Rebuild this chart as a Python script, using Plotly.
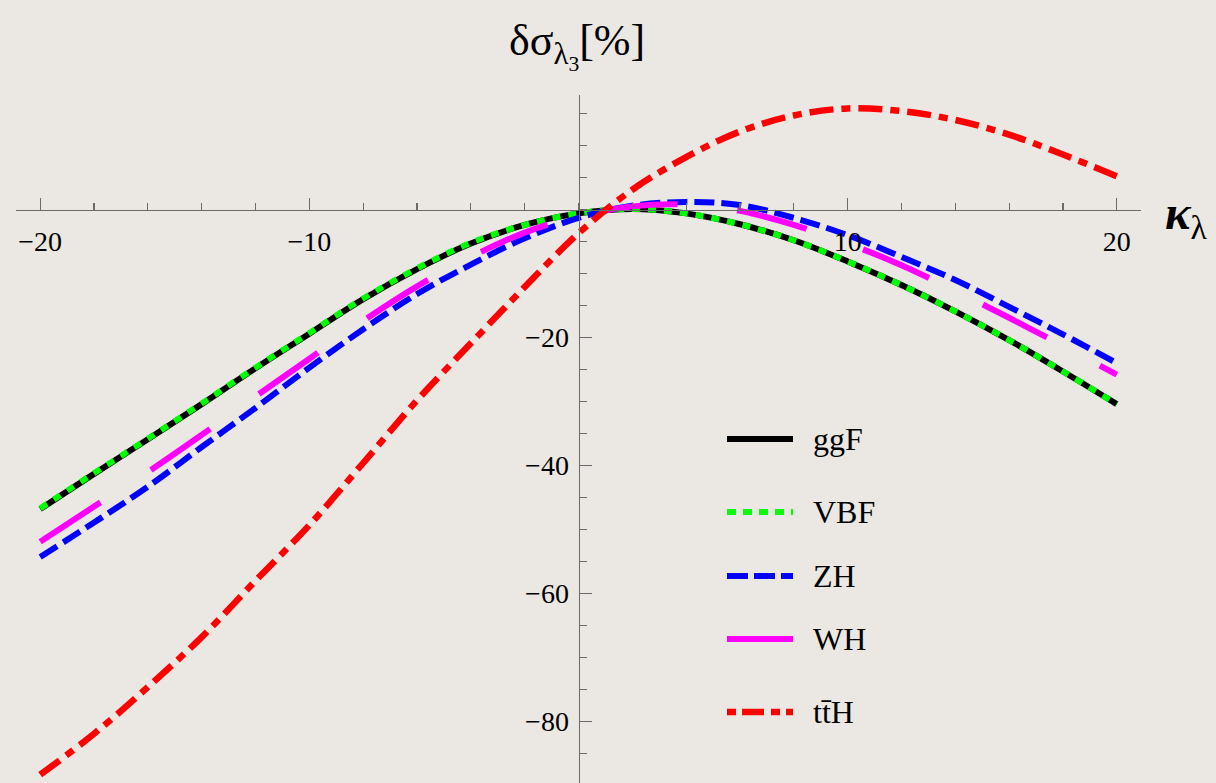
import plotly.graph_objects as go

# ---------------- data ----------------
kappa = [-20, -18, -16, -14, -12, -10, -8, -6, -4, -2, 0, 2, 4, 6, 8, 10, 12, 14, 16, 18, 20]

ggF = [-46.8, -41.3, -35.9, -30.4, -24.8, -19.4, -14.0, -9.3, -5.3, -2.4, -0.6,
       0.1, -0.6, -2.3, -4.8, -8.1, -11.8, -15.9, -20.4, -25.3, -30.4]
VBF = [-46.7, -41.2, -35.8, -30.3, -24.7, -19.3, -13.9, -9.2, -5.2, -2.4, -0.6,
       0.1, -0.6, -2.3, -4.8, -8.1, -11.8, -15.9, -20.4, -25.3, -30.4]
ZH = [-54.3, -48.9, -43.3, -37.1, -31.0, -24.7, -18.7, -13.2, -8.6, -4.5, -1.3,
      0.6, 1.2, 0.7, -1.3, -4.0, -7.4, -11.0, -15.2, -19.5, -24.0]
WH = [-51.9, -46.4, -41.0, -35.2, -29.2, -23.3, -17.4, -12.0, -7.4, -3.6, -1.0,
      0.5, 0.8, -0.2, -2.4, -5.3, -8.7, -12.7, -16.9, -21.3, -25.8]
ttH = [-88.3, -81.9, -74.6, -66.8, -58.0, -49.3, -39.6, -29.8, -20.9, -12.1, -3.7,
       3.1, 8.2, 12.2, 14.7, 15.8, 15.4, 14.0, 11.7, 8.6, 5.2]

x_ticks = [-20, -10, 10, 20]
x_minor = [v for v in range(-20, 21, 2)]
y_ticks = [-80, -60, -40, -20]
y_minor = [v for v in range(-85, 16, 5)]

legend_names = ["ggF", "VBF", "ZH", "WH", "tt̄H"]

# ---------------- styling ----------------
W, H = 1216, 783
X_RANGE = [-20.9, 20.9]
Y_RANGE = [-89.6, 17.9]
X_DOM = [16 / W, 1141 / W]
Y_DOM = [0.0, (H - 95) / H]
AXC = "#6a6a6a"
BG = "#ebe8e3"
SERIF = "Liberation Serif"

styles = {
    "ggF": dict(color="black", width=6, dash="solid"),
    "VBF": dict(color="#00ff00", width=6, dash="8px,8px"),
    "ZH": dict(color="#0000ff", width=6, dash="20px,7px"),
    "WH": dict(color="#ff00ff", width=6, dash="72px,60px"),
    "tt̄H": dict(color="#ff0000", width=6.5, dash="24px,8px,9px,8px"),
}
legend_dash = {"ggF": "solid", "VBF": "9px,7px", "ZH": "21px,6px",
               "WH": "solid", "tt̄H": "9px,6px,22px,7px"}

series = list(zip(legend_names, [ggF, VBF, ZH, WH, ttH]))

fig = go.Figure()
for name, vals in series:
    st = styles[name]
    fig.add_trace(go.Scatter(
        x=kappa, y=vals, mode="lines", name=name,
        line=dict(color=st["color"], width=st["width"], dash=st["dash"],
                  shape="spline", smoothing=1.0),
        showlegend=False, hoverinfo="skip",
    ))

# axis crossing positions (paper coords)
x_pos_paper = Y_DOM[0] + (0 - Y_RANGE[0]) / (Y_RANGE[1] - Y_RANGE[0]) * (Y_DOM[1] - Y_DOM[0])
y_pos_paper = X_DOM[0] + (0 - X_RANGE[0]) / (X_RANGE[1] - X_RANGE[0]) * (X_DOM[1] - X_DOM[0])

fig.update_layout(
    width=W, height=H, autosize=False,
    margin=dict(l=0, r=0, t=0, b=0),
    paper_bgcolor=BG, plot_bgcolor="rgba(0,0,0,0)",
    font=dict(family=SERIF, color="black"),
    xaxis=dict(
        domain=X_DOM, range=X_RANGE, anchor="free", position=x_pos_paper,
        showgrid=False, zeroline=False, showline=True, linecolor=AXC, linewidth=1.5,
        tickmode="array", tickvals=x_ticks, ticks="inside", ticklen=12,
        tickwidth=1.3, tickcolor=AXC, tickfont=dict(family=SERIF, size=28, color="black"),
        ticklabelstandoff=6,
        minor=dict(tickmode="array", tickvals=x_minor, ticks="inside", ticklen=7,
                   tickwidth=1.2, tickcolor=AXC, showgrid=False),
    ),
    yaxis=dict(
        domain=Y_DOM, range=Y_RANGE, anchor="free", position=y_pos_paper,
        showgrid=False, zeroline=False, showline=True, linecolor=AXC, linewidth=1.5,
        tickmode="array", tickvals=y_ticks, ticks="inside", ticklen=12,
        tickwidth=1.3, tickcolor=AXC, tickfont=dict(family=SERIF, size=28, color="black"),
        ticklabelstandoff=4,
        minor=dict(tickmode="array", tickvals=y_minor, ticks="inside", ticklen=7,
                   tickwidth=1.2, tickcolor=AXC, showgrid=False),
    ),
)

# axis labels
fig.add_annotation(xref="paper", yref="paper", x=577 / W, y=1 - 46 / H,
                   text="δσ<sub>λ<sub>3</sub></sub>[%]", showarrow=False,
                   font=dict(family=SERIF, size=44, color="black"),
                   xanchor="center", yanchor="middle")
fig.add_annotation(xref="paper", yref="paper", x=1163 / W, y=1 - 216 / H,
                   text="<i><b>κ</b></i><sub>λ</sub>", showarrow=False,
                   font=dict(family=SERIF, size=48, color="black"),
                   xanchor="left", yanchor="middle")

# legend drawn manually
leg_y = [439, 512, 576, 639, 712]
for (name, _), yy in zip(series, leg_y):
    st = styles[name]
    fig.add_shape(type="line", xref="paper", yref="paper",
                  x0=727 / W, x1=793 / W, y0=1 - yy / H, y1=1 - yy / H,
                  line=dict(color=st["color"], width=st["width"], dash=legend_dash[name]))
    fig.add_annotation(xref="paper", yref="paper", x=811 / W, y=1 - yy / H,
                       text=name, showarrow=False,
                       font=dict(family=SERIF, size=32, color="black"),
                       xanchor="left", yanchor="middle")

fig.write_html(
    "out.html",
    config={"displayModeBar": False, "staticPlot": True},
    post_script=("document.body.style.margin='0';"
                 "document.body.style.overflow='hidden';"
                 "document.body.style.background='#ebe8e3';"),
)
